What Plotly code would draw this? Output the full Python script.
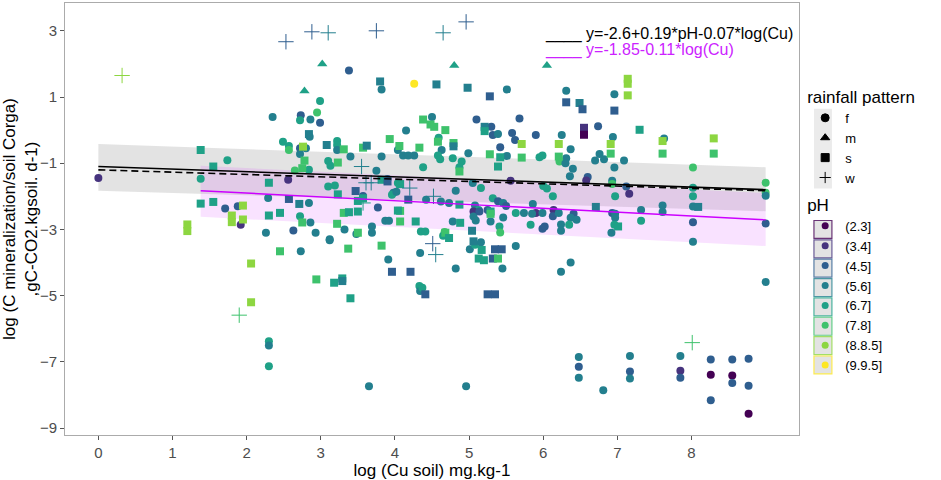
import numpy as np
import plotly.graph_objects as go

# --- pH classes (viridis, 8 levels) ---
ph_labels = ["(2.3]", "(3.4]", "(4.5]", "(5.6]", "(6.7]", "(7.8]", "(8.8.5]", "(9.9.5]"]
ph_colors = ["#440154", "#46337E", "#2F5E8F", "#237F8E", "#1FA187", "#3EC26C", "#8DD641", "#FDE725"]

# --- rainfall pattern f (circles): x, y, pH class index ---
f_x = [0.00, 1.74, 1.38, 1.71, 1.88, 1.92, 2.56, 2.30, 2.30, 2.30, 2.73, 3.12, 3.91, 3.65, 4.34, 4.33,
       4.34, 4.37, 4.82, 4.96, 5.45, 5.63, 6.24, 6.37, 6.48, 6.48, 6.48, 6.81, 7.17, 7.17, 7.17, 7.85,
       7.85, 7.85, 8.26, 8.26, 8.26, 8.55, 8.55, 8.55, 8.77, 8.77, 8.77, 9.00, 6.31, 6.96, 6.74, 6.94,
       7.63, 6.37, 6.31, 6.70, 6.76, 6.82, 7.09, 6.96, 6.40, 6.36, 6.60, 6.58, 6.93, 6.93, 7.12, 7.16,
       6.97, 8.02, 8.02, 8.02, 8.02, 8.02, 8.02, 9.00, 9.00, 9.00, 9.00, 7.61, 7.61, 7.32, 7.32, 6.93,
       6.97, 6.97, 6.96, 6.92, 6.41, 6.37, 6.45, 6.35, 6.24, 6.24, 4.26, 5.51, 4.50, 4.15, 5.10, 5.30,
       5.32, 5.39, 5.68, 5.58, 5.62, 5.90, 6.25, 5.42, 5.51, 5.95, 5.99, 6.22, 4.04, 4.11, 4.18, 4.26,
       4.38, 4.59, 4.63, 4.58, 4.61, 4.78, 4.99, 4.90, 4.87, 3.98, 4.42, 4.62, 4.82, 4.73, 5.05, 5.16,
       5.56, 5.32, 5.39, 5.46, 5.50, 5.86, 6.00, 6.05, 6.13, 6.14, 6.13, 5.63, 5.74, 5.90, 5.99, 5.08,
       5.13, 5.06, 5.06, 5.09, 5.14, 5.25, 5.29, 5.46, 5.41, 5.42, 5.83, 5.85, 6.21, 5.99, 6.02, 4.35,
       4.41, 4.78, 4.67, 4.65, 5.01, 5.08, 5.16, 3.38, 3.82, 2.99, 2.95, 2.35, 2.73, 2.72, 2.86, 2.99,
       2.85, 2.49, 2.57, 2.57, 2.72, 2.80, 2.72, 3.22, 3.22, 3.22, 2.84, 3.10, 3.13, 3.40, 3.75, 3.82,
       2.65, 3.10, 3.19, 3.57, 3.77, 3.90, 3.96, 4.02, 2.29, 2.84, 2.72, 2.86, 3.32, 3.48, 2.26, 2.63,
       2.93, 3.12, 3.69, 3.69, 3.87, 3.92, 4.04, 6.30]
f_y = [-1.45, -0.91, -1.47, -2.37, -2.30, -2.86, -1.50, -6.38, -6.51, -7.13, -3.66, -3.30, -3.91, -7.74, -3.71, -4.71,
       -4.86, -4.76, -4.18, -7.74, -4.18, -3.50, -4.28, -4.00, -6.85, -7.15, -7.48, -7.86, -6.82, -7.29, -7.50, -6.82,
       -7.27, -7.48, -6.93, -7.39, -8.16, -6.93, -7.41, -7.64, -6.91, -7.72, -8.57, -4.59, 1.19, 1.08, 0.12, -0.21,
       -0.25, -0.58, -0.85, -0.92, -0.72, -0.88, -0.92, -1.13, -1.17, -1.39, -1.42, -1.52, -1.53, -1.63, -1.70, -1.92,
       -2.00, -1.13, -1.74, -2.00, -2.31, -2.78, -3.37, -1.59, -1.89, -1.98, -2.82, -2.28, -2.47, -2.41, -2.74, -2.50,
       -2.53, -2.65, -2.86, -3.10, -2.53, -2.65, -2.71, -2.86, -2.85, -3.04, 1.40, 1.23, 0.40, -0.01, 0.32, 0.10,
       -0.15, -0.12, 0.35, -0.09, -0.30, -0.15, -0.15, -0.52, -0.78, -0.82, -0.77, -0.95, -0.60, -0.77, -0.77, -0.77,
       -1.12, -0.23, -0.60, -0.77, -0.88, -0.85, -0.70, -0.95, -1.12, -1.89, -2.10, -2.16, -1.83, -2.20, -1.60, -1.75,
       -1.53, -2.06, -2.15, -2.20, -2.29, -2.23, -1.69, -1.76, -2.00, -2.41, -2.60, -2.50, -2.50, -2.50, -2.50, -2.28,
       -2.41, -2.46, -2.61, -2.73, -2.46, -2.41, -2.76, -2.64, -2.91, -3.09, -2.86, -2.53, -2.50, -2.98, -2.91, -3.06,
       -3.06, -2.76, -3.08, -3.19, -3.60, -3.46, -3.39, 1.80, 1.23, 0.88, 0.53, 0.40, 0.45, 0.30, 0.32, 0.22,
       -0.20, -0.35, -0.48, -0.60, -0.55, -0.55, -0.72, -0.33, -0.45, -0.60, -1.20, -0.93, -1.08, -0.80, -1.23, -0.80,
       -1.22, -1.70, -1.67, -1.99, -2.34, -1.48, -1.95, -1.86, -2.05, -2.20, -2.60, -2.79, -3.00, -3.14, -3.10, -3.03,
       -3.10, -3.33, -2.91, -3.10, -2.74, -2.74, -1.60, -1.00]
f_ph = [1, 4, 4, 2, 2, 1, 1, 4, 3, 4, 3, 3, 3, 3, 3, 4,
        3, 4, 3, 3, 3, 3, 3, 3, 3, 2, 3, 3, 3, 2, 3, 3,
        1, 2, 2, 0, 2, 2, 0, 2, 2, 2, 0, 3, 3, 3, 2, 3,
        3, 3, 3, 3, 3, 3, 3, 3, 3, 3, 2, 1, 3, 5, 2, 1,
        4, 5, 4, 4, 3, 2, 3, 5, 5, 3, 2, 3, 3, 3, 4, 2,
        3, 3, 4, 3, 2, 3, 3, 4, 3, 3, 7, 3, 3, 3, 2, 2,
        2, 3, 2, 2, 2, 2, 3, 2, 3, 4, 4, 5, 3, 3, 3, 3,
        4, 4, 3, 4, 4, 4, 3, 4, 4, 3, 3, 3, 3, 3, 3, 4,
        1, 4, 2, 3, 2, 3, 4, 4, 4, 1, 2, 4, 3, 1, 3, 3,
        4, 1, 3, 3, 2, 2, 3, 3, 4, 5, 4, 3, 3, 2, 2, 4,
        4, 3, 5, 4, 3, 4, 3, 2, 3, 4, 5, 3, 2, 4, 3, 2,
        3, 4, 4, 5, 2, 3, 3, 4, 4, 3, 4, 4, 4, 3, 3, 3,
        5, 4, 4, 2, 2, 2, 4, 3, 3, 3, 4, 3, 3, 3, 3, 2,
        3, 3, 3, 3, 3, 3, 4, 3]

# --- rainfall pattern m (triangles) ---
m_x = [3.02, 2.78, 4.80, 6.05]
m_y = [2.00, 1.18, 1.95, 1.95]
m_ph = [4, 4, 4, 4]

# --- rainfall pattern s (squares) ---
s_x = [1.20, 1.20, 1.38, 1.55, 1.38, 1.55, 1.80, 1.80, 1.95, 1.95, 2.06, 2.06, 2.45, 2.94, 3.18, 3.29,
       3.29, 3.37, 3.40, 3.82, 3.96, 4.21, 4.41, 5.25, 5.35, 6.31, 6.49, 6.53, 6.96, 7.14, 7.14, 7.14,
       6.55, 6.55, 7.30, 6.91, 6.91, 7.61, 7.61, 8.30, 8.30, 6.71, 8.09, 7.01, 4.56, 4.98, 5.28, 4.38,
       4.48, 4.53, 4.68, 5.21, 5.21, 5.71, 6.21, 5.28, 5.42, 5.71, 5.39, 6.21, 4.06, 4.33, 4.58, 4.79,
       4.79, 4.87, 4.07, 4.18, 4.87, 5.29, 5.29, 4.07, 4.07, 4.28, 4.88, 4.68, 4.73, 5.04, 5.06, 5.17,
       5.13, 5.20, 5.35, 5.44, 5.32, 5.39, 3.80, 2.84, 2.76, 3.08, 3.31, 3.57, 3.62, 3.93, 2.78, 2.75,
       3.23, 2.30, 3.23, 3.47, 3.50, 3.57, 3.82, 3.90, 2.57, 2.71, 2.30, 2.45, 2.75, 3.22, 3.31, 3.38,
       3.50, 3.50, 4.04]
s_y = [-2.85, -3.05, -0.60, -1.10, -2.22, -2.17, -2.58, -2.78, -2.28, -2.70, -4.03, -5.20, -3.66, -4.51, -4.61, -4.48,
       -4.56, -3.58, -5.08, -3.49, -4.28, -4.28, -4.96, -4.96, -4.96, 0.84, 0.82, 0.63, 0.59, 1.55, 1.40, 1.05,
       0.07, -0.14, 0.01, -0.42, -0.71, -0.33, -0.71, -0.25, -0.71, -2.32, -2.32, -2.91, 1.38, 1.28, 1.02, 0.32,
       0.17, 0.10, 0.00, 0.10, -0.03, -0.42, -0.42, -0.73, -0.82, -0.83, -1.10, -0.80, -0.48, -0.53, -0.35, -0.39,
       -0.49, -1.25, -1.63, -2.10, -2.25, -2.46, -2.53, -2.44, -2.76, -2.76, -2.80, -3.10, -3.26, -3.04, -3.36, -3.62,
       -3.88, -3.93, -3.60, -3.60, -3.88, -3.88, 1.47, -0.12, -0.50, -0.45, -0.58, -0.53, -0.47, -0.27, -0.92, -1.15,
       -0.98, -1.59, -1.94, -1.84, -2.14, -2.06, -1.50, -1.55, -2.08, -2.23, -2.58, -2.50, -2.79, -2.83, -2.50, -2.48,
       -2.46, -3.10, -2.43]
s_ph = [6, 6, 4, 4, 4, 4, 6, 6, 6, 6, 6, 6, 5, 5, 4, 4,
        3, 5, 4, 5, 2, 2, 2, 2, 2, 2, 3, 2, 2, 6, 6, 6,
        1, 0, 4, 6, 5, 6, 5, 6, 5, 3, 3, 4, 3, 3, 2, 5,
        5, 5, 5, 3, 4, 6, 6, 5, 4, 5, 4, 5, 5, 5, 5, 5,
        3, 5, 4, 2, 4, 4, 5, 5, 5, 4, 4, 5, 4, 3, 3, 4,
        4, 4, 2, 2, 2, 5, 3, 3, 6, 3, 5, 5, 3, 5, 5, 5,
        5, 4, 4, 2, 4, 4, 4, 2, 2, 3, 4, 4, 5, 5, 5, 4,
        4, 5, 4]

# --- rainfall pattern w (crosses) ---
w_x = [0.32, 1.90, 2.53, 2.88, 3.10, 3.75, 4.65, 4.96, 3.55, 3.61, 3.68, 3.57, 4.20, 4.52, 4.51, 4.55, 8.01]
w_y = [1.65, -5.59, 2.67, 2.97, 2.94, 3.00, 2.94, 3.27, -1.10, -1.59, -1.59, -2.20, -1.75, -2.00, -3.43, -3.76, -6.42]
w_ph = [6, 5, 2, 2, 3, 2, 3, 2, 3, 3, 3, 4, 3, 3, 2, 3, 5]

# --- fitted lines and confidence bands ---
fit_x = [0.0, 9.0]
fit_all = [-1.10, -1.80]          # solid black
fit_all_dash = [-1.20, -1.83]     # dashed black
band_all_lo = [-1.83, -2.45]
band_all_hi = [-0.42, -1.12]

fit_cu_x = [1.38, 9.0]
fit_cu = [-1.83, -2.71]           # magenta
band_cu_lo = [-2.62, -3.50]
band_cu_hi = [-1.08, -1.90]

FONT = "Arial, Liberation Sans, sans-serif"
ML, MR, MT, MB = 63, 142, 2, 45
W, H = 941, 480

fig = go.Figure()

# confidence bands
fig.add_trace(go.Scatter(x=fit_x, y=band_all_hi, mode="lines", line=dict(width=0),
                         showlegend=False, hoverinfo="skip"))
fig.add_trace(go.Scatter(x=fit_x, y=band_all_lo, mode="lines", line=dict(width=0), fill="tonexty",
                         fillcolor="rgba(153,153,153,0.28)", showlegend=False, hoverinfo="skip"))
fig.add_trace(go.Scatter(x=fit_cu_x, y=band_cu_hi, mode="lines", line=dict(width=0),
                         showlegend=False, hoverinfo="skip"))
fig.add_trace(go.Scatter(x=fit_cu_x, y=band_cu_lo, mode="lines", line=dict(width=0), fill="tonexty",
                         fillcolor="rgba(214,60,255,0.15)", showlegend=False, hoverinfo="skip"))

# points, one trace per rainfall pattern
def cols(idx):
    return [ph_colors[i] for i in idx]

fig.add_trace(go.Scatter(x=f_x, y=f_y, mode="markers", showlegend=False,
                         marker=dict(symbol="circle", size=8, color=cols(f_ph), line=dict(width=0))))
fig.add_trace(go.Scatter(x=m_x, y=m_y, mode="markers", showlegend=False,
                         marker=dict(symbol="triangle-up", size=9, color=cols(m_ph), line=dict(width=0))))
fig.add_trace(go.Scatter(x=s_x, y=s_y, mode="markers", showlegend=False,
                         marker=dict(symbol="square", size=8, color=cols(s_ph), line=dict(width=0))))
fig.add_trace(go.Scatter(x=w_x, y=w_y, mode="markers", showlegend=False,
                         marker=dict(symbol="cross-thin", size=11, color=cols(w_ph),
                                     line=dict(width=1, color=cols(w_ph)))))

# fitted lines
fig.add_trace(go.Scatter(x=fit_x, y=fit_all_dash, mode="lines", showlegend=False,
                         line=dict(color="black", width=1.6, dash="7px,4px")))
fig.add_trace(go.Scatter(x=fit_x, y=fit_all, mode="lines", showlegend=False,
                         line=dict(color="black", width=1.6)))
fig.add_trace(go.Scatter(x=fit_cu_x, y=fit_cu, mode="lines", showlegend=False,
                         line=dict(color="#CC00FF", width=1.4)))

# legend: rainfall pattern
for name, sym in zip(["f", "m", "s", "w"], ["circle", "triangle-up", "square", "cross-thin"]):
    fig.add_trace(go.Scatter(x=[None], y=[None], mode="markers", name=name, legend="legend",
                             marker=dict(symbol=sym, size=8, color="black",
                                         line=dict(width=1, color="black"))))
# legend: pH
for lab, c in zip(ph_labels, ph_colors):
    fig.add_trace(go.Scatter(x=[None], y=[None], mode="markers", name=lab, legend="legend2",
                             marker=dict(symbol="circle", size=7, color=c)))

# grey legend key backgrounds (ggplot style), placed in paper units
def px_x(px):
    return (px - ML) / (W - ML - MR)

def px_y(py):
    return (H - MB - py) / (H - MT - MB)

key_x, key_half = 823, 9
fig.add_shape(type="rect", xref="paper", yref="paper", layer="below",
              x0=px_x(key_x - key_half), x1=px_x(key_x + key_half),
              y0=px_y(188), y1=px_y(108), fillcolor="#EBEBEB", line=dict(width=0))
for i, c in enumerate(ph_colors):
    yc = 229 + i * 19.4
    fig.add_shape(type="rect", xref="paper", yref="paper", layer="below",
                  x0=px_x(key_x - key_half), x1=px_x(key_x + key_half),
                  y0=px_y(yc + key_half), y1=px_y(yc - key_half),
                  fillcolor="#DDDDDD", opacity=0.8, line=dict(width=1.2, color=c))

# equation labels
fig.add_annotation(x=6.0, y=2.91, xref="x", yref="y", xanchor="left", showarrow=False,
                   text="____ y=-2.6+0.19*pH-0.07*log(Cu)", font=dict(family=FONT, size=16, color="black"))
fig.add_annotation(x=6.0, y=2.43, xref="x", yref="y", xanchor="left", showarrow=False,
                   text="____ y=-1.85-0.11*log(Cu)", font=dict(family=FONT, size=16, color="#CC22FF"))

axis_common = dict(showgrid=False, zeroline=False, showline=True, mirror=True, linecolor="#ABABAB",
                   linewidth=1, ticks="outside", ticklen=4, tickcolor="#555555",
                   tickfont=dict(family=FONT, size=15, color="#4D4D4D"))

fig.update_layout(
    width=W, height=H,
    margin=dict(l=ML, r=MR, t=MT, b=MB),
    paper_bgcolor="white", plot_bgcolor="white",
    font=dict(family=FONT, color="black"),
    xaxis=dict(range=[-0.45, 9.45], tickvals=list(range(0, 9)),
               title=dict(text="log (Cu soil) mg.kg-1", font=dict(family=FONT, size=17), standoff=0),
               **axis_common),
    yaxis=dict(range=[-9.21, 3.84], tickvals=[3, 1, -1, -3, -5, -7, -9],
               title=dict(text="log (C mineralization/soil Corga)<br>,gC-CO2.kgsoil. d-1)",
                          font=dict(family=FONT, size=17), standoff=4),
               **axis_common),
    legend=dict(title=dict(text="rainfall pattern", font=dict(family=FONT, size=17)),
                x=1.0084, y=0.82, xanchor="left", yanchor="top", traceorder="normal",
                bgcolor="rgba(0,0,0,0)",
                font=dict(family=FONT, size=13), tracegroupgap=0, itemwidth=30),
    legend2=dict(title=dict(text="pH", font=dict(family=FONT, size=17)),
                 x=1.0084, y=0.57, xanchor="left", yanchor="top", traceorder="normal",
                 bgcolor="rgba(0,0,0,0)",
                 font=dict(family=FONT, size=13), tracegroupgap=0, itemwidth=30),
)

# page body has an 8px default margin; remove it so the figure sits at the window corner
fig.write_html("out.html", config={"displayModeBar": False},
               post_script="document.body.style.margin='0';")
